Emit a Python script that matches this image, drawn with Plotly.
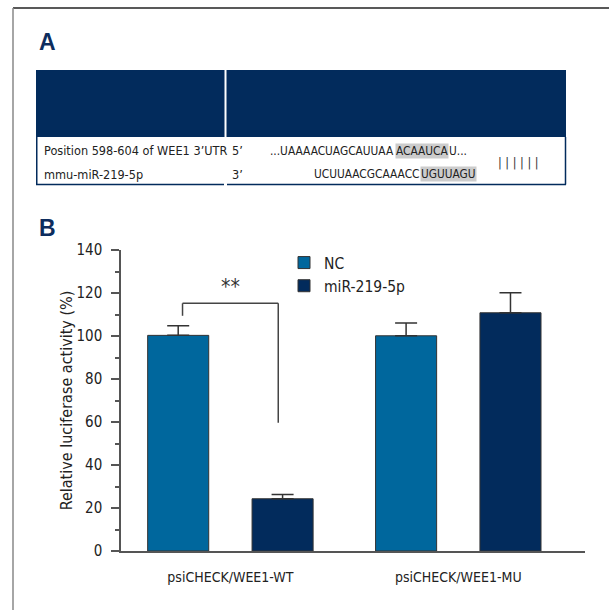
import plotly.graph_objects as go

# ---------------- data ----------------
categories = ["psiCHECK/WEE1-WT", "psiCHECK/WEE1-MU"]
series_names = ["NC", "miR-219-5p"]
nc_values = [100.3, 100.1]
nc_errors = [4.5, 6.0]
mir_values = [24.3, 110.8]
mir_errors = [2.0, 9.3]
y_tick_values = [0, 20, 40, 60, 80, 100, 120, 140]
y_title = "Relative luciferase activity (%)"
significance_label = "**"
sig_bracket_top = 115.2
sig_left_bottom = 109.4
sig_right_bottom = 59.6
sig_label_y = 122.8

table_row_labels = ["Position 598-604 of WEE1 3\u2019UTR", "mmu-miR-219-5p"]
strand_labels = ["5\u2019", "3\u2019"]
utr_parts = ["...UAAAACUAGCAUUAA", "ACAAUCA", "U..."]
mir_parts = ["UCUUAACGCAAACC", "UGUUAGU"]
pairing_label = "| | | | | |"

# ---------------- style ----------------
W, H = 609, 610
NC_COLOR = "#00679d"
MIR_COLOR = "#022b5c"
NAVY = "#022b5c"
AXIS = "#555555"
TEXT = "#222222"
FONT = "DejaVu Sans Condensed, Liberation Sans Narrow, Arial Narrow, sans-serif"
BOLD_FONT = "Liberation Sans, Arial, sans-serif"


def px(x):
    return x / W


def py(y):
    return 1 - y / H


fig = go.Figure()
fig.add_trace(go.Bar(
    name=series_names[0], x=categories, y=nc_values,
    marker=dict(color=NC_COLOR, line=dict(color="#333333", width=1)),
    error_y=dict(type="data", symmetric=False, array=nc_errors,
                 arrayminus=[0] * len(nc_errors), color="#333333",
                 thickness=1.5, width=11),
))
fig.add_trace(go.Bar(
    name=series_names[1], x=categories, y=mir_values,
    marker=dict(color=MIR_COLOR, line=dict(color="#333333", width=1)),
    error_y=dict(type="data", symmetric=False, array=mir_errors,
                 arrayminus=[0] * len(mir_errors), color="#333333",
                 thickness=1.5, width=11),
))

shapes = []
# outer frame
shapes.append(dict(type="line", xref="paper", yref="paper", x0=px(13), x1=1.0,
                   y0=py(8), y1=py(8), line=dict(color="#222222", width=1.5)))
shapes.append(dict(type="line", xref="paper", yref="paper", x0=px(13), x1=px(13),
                   y0=py(8), y1=0, line=dict(color="#888888", width=1.5)))
# table header
shapes.append(dict(type="rect", xref="paper", yref="paper", x0=px(36), x1=px(566),
                   y0=py(137), y1=py(70), fillcolor=NAVY, line=dict(width=0), layer="below"))
shapes.append(dict(type="line", xref="paper", yref="paper", x0=px(225.5), x1=px(225.5),
                   y0=py(137), y1=py(70), line=dict(color="white", width=2)))
# table row borders
for (x0, y0, x1, y1) in [(36.75, 137, 36.75, 184.5), (565.5, 137, 565.5, 184.5),
                         (36, 184.5, 224, 184.5), (227, 184.5, 566, 184.5)]:
    shapes.append(dict(type="line", xref="paper", yref="paper", x0=px(x0), x1=px(x1),
                       y0=py(y0), y1=py(y1), line=dict(color=NAVY, width=1.5)))

# significance bracket (WT group, index 0)
bx_l, bx_r = -0.21, 0.21
for (x0, y0, x1, y1) in [(bx_l, sig_left_bottom, bx_l, sig_bracket_top),
                         (bx_l, sig_bracket_top, bx_r, sig_bracket_top),
                         (bx_r, sig_bracket_top, bx_r, sig_right_bottom)]:
    shapes.append(dict(type="line", xref="x", yref="y", x0=x0, x1=x1, y0=y0, y1=y1,
                       line=dict(color="#444444", width=1.5)))

annotations = []


def txt(text, x, y, size, xanchor="left", color=TEXT, family=FONT, **kw):
    annotations.append(dict(text=text, xref="paper", yref="paper", x=px(x), y=py(y),
                            xanchor=xanchor, yanchor="middle", showarrow=False,
                            font=dict(family=family, size=size, color=color), **kw))


txt("<b>A</b>", 37, 42, 23, family=BOLD_FONT, color="#0d2d5e")
txt("<b>B</b>", 37, 228, 23, family=BOLD_FONT, color="#0d2d5e")

row_y = [150.7, 174]
for lbl, sl, yy in zip(table_row_labels, strand_labels, row_y):
    txt(lbl, 42, yy, 12.6)
    txt(sl, 230, yy, 12.6)

SEQ = 11.8
HL = "#cccccc"
# line 1
txt(utr_parts[0], 395, row_y[0], SEQ, xanchor="right", borderpad=0)
txt(utr_parts[1], 395, row_y[0], SEQ, xanchor="left", bgcolor=HL, borderpad=0)
txt(utr_parts[2], 447.5, row_y[0], SEQ, xanchor="left", borderpad=0)
# line 2
txt(mir_parts[0], 420, row_y[1], SEQ, xanchor="right", borderpad=0)
txt(mir_parts[1], 420, row_y[1], SEQ, xanchor="left", bgcolor=HL, borderpad=0)
# pairing
txt(pairing_label, 518.5, 162, 12.5, xanchor="center", color="#333333")

annotations.append(dict(text=significance_label, xref="x", yref="y", x=0, y=sig_label_y,
                        xanchor="center", yanchor="middle", showarrow=False,
                        font=dict(family=FONT, size=21, color="#333333")))

fig.update_layout(
    width=W, height=H, template="none",
    margin=dict(l=0, r=0, t=0, b=0),
    paper_bgcolor="white", plot_bgcolor="white",
    barmode="group", bargap=0.084, bargroupgap=0.415,
    shapes=shapes, annotations=annotations,
    font=dict(family=FONT, color=TEXT),
    legend=dict(x=px(284), y=py(246), xanchor="left", yanchor="top",
                font=dict(family=FONT, size=15.5, color=TEXT),
                bgcolor="rgba(0,0,0,0)", tracegroupgap=0),
    xaxis=dict(domain=[px(121), px(585)], range=[-0.48, 1.556],
               showline=True, linecolor=AXIS, linewidth=1.5, ticks="",
               showgrid=False, zeroline=False, automargin=False,
               tickfont=dict(family=FONT, size=14, color=TEXT), ticklabelstandoff=12),
    yaxis=dict(domain=[py(551), py(250)], range=[0, 140],
               tickvals=y_tick_values, showline=True, linecolor=AXIS, linewidth=1.5,
               ticks="outside", ticklen=8, tickwidth=1.5, tickcolor=AXIS,
               minor=dict(dtick=10, ticks="outside", ticklen=4, tickwidth=1.5, tickcolor=AXIS),
               showgrid=False, zeroline=False, automargin=False,
               tickfont=dict(family=FONT, size=15, color=TEXT), ticklabelstandoff=6,
               title=dict(text=y_title, font=dict(family=FONT, size=16, color=TEXT), standoff=0)),
)

fig.write_html("out.html", config={"displayModeBar": False},
               post_script="document.body.style.margin='0px';document.body.style.overflow='hidden';")
